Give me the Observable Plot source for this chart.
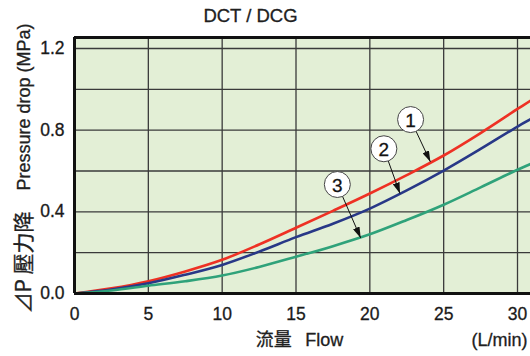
<!DOCTYPE html>
<html><head><meta charset="utf-8">
<script src="https://cdn.jsdelivr.net/npm/d3@7"></script>
<script src="https://cdn.jsdelivr.net/npm/@observablehq/plot@0.6"></script>
<style>body{margin:0;background:#fff;} svg{display:block} #chart text{stroke:#1a1a1a;stroke-width:0.3px}</style>
</head><body><div id="chart"></div>
<script>
// Flow (L/min)
const flow  = [0, 2.5, 5, 7.5, 10, 12.5, 15, 17.5, 20, 22.5, 25, 27.5, 30, 31];
// Pressure drop (MPa) per curve
const drop1 = [0, 0.025, 0.060, 0.108, 0.165, 0.240, 0.322, 0.405, 0.490, 0.580, 0.676, 0.786, 0.904, 0.950];
const drop2 = [0, 0.020, 0.050, 0.092, 0.140, 0.205, 0.276, 0.342, 0.416, 0.505, 0.602, 0.708, 0.818, 0.858];
const drop3 = [0, 0.015, 0.038, 0.060, 0.088, 0.130, 0.180, 0.232, 0.290, 0.360, 0.435, 0.520, 0.606, 0.638];
const seriesNames  = ["1", "2", "3"];
const seriesColors = ["#ee3124", "#283887", "#2fa27a"];
const xTicks = [0, 5, 10, 15, 20, 25, 30];
const yTicks = [0, 0.4, 0.8, 1.2];
const xGrid  = [5, 10, 15, 20, 25, 30];
const yGrid  = [0.2, 0.4, 0.6, 0.8, 1.0, 1.2];
// callout circles (data units) and arrow tips
const calloutX = [22.76, 20.95, 17.8];
const calloutY = [0.852, 0.709, 0.534];
const tipX = [24.1, 22.04, 19.38];
const tipY = [0.645, 0.49, 0.272];
const titleText = "DCT / DCG";
const xLabel = "流量\u2002\u2005Flow";
const unitLabel = "(L/min)";
const yLabelCJK = "⊿P 壓力降";
const yLabelEN = "Pressure drop (MPa)";

const drops = [drop1, drop2, drop3];
const rows = seriesNames.flatMap((s, i) => flow.map((f, j) => ({series: s, flow: f, drop: drops[i][j]})));
const callouts = seriesNames.map((s, i) => ({label: s, cx: calloutX[i], cy: calloutY[i], tx: tipX[i], ty: tipY[i]}));

const X_MAX = 30.88, Y_MAX = 1.254;
const font = "'Liberation Sans', Arial, 'Noto Sans CJK TC', sans-serif";
const cjkFont = "'Noto Sans CJK TC', 'Liberation Sans', sans-serif";

const svg = Plot.plot({
  width: 530, height: 356,
  marginLeft: 74, marginRight: 0, marginTop: 37, marginBottom: 63,
  style: {fontFamily: font, background: "#fff", color: "#1a1a1a"},
  x: {domain: [0, X_MAX]},
  y: {domain: [0, Y_MAX]},
  color: {domain: seriesNames, range: seriesColors},
  marks: [
    Plot.frame({fill: "#e3efd6", stroke: null}),
    Plot.ruleX(xGrid, {stroke: "#3a3a3a", strokeWidth: 1.3}),
    Plot.ruleY(yGrid, {stroke: "#3a3a3a", strokeWidth: 1.3}),
    Plot.line(rows, {x: "flow", y: "drop", z: "series", stroke: "series", strokeWidth: 2.6, curve: "catmull-rom", clip: true}),
    Plot.link(callouts, {x1: "cx", y1: "cy", x2: "tx", y2: "ty", stroke: "#111", strokeWidth: 1}),
    Plot.dot(callouts, {x: "cx", y: "cy", r: 13, fill: "white", stroke: "#444", strokeWidth: 1}),
    Plot.text(callouts, {x: "cx", y: "cy", text: "label", fontSize: 19, fill: "#111", dy: 1}),
    Plot.ruleY([0, Y_MAX], {stroke: "#111", strokeWidth: 3}),
    Plot.ruleX([0], {stroke: "#111", strokeWidth: 3}),
    Plot.axisX(xTicks, {tickSize: 0, tickPadding: 14, fontSize: 17.5, label: null, fill: "#1a1a1a"}),
    Plot.axisY(yTicks, {tickSize: 0, tickPadding: 10, fontSize: 17.5, label: null, tickFormat: d3.format(".1f"), fill: "#1a1a1a"}),
    Plot.text([titleText], {frameAnchor: "top-left", textAnchor: "middle", lineAnchor: "middle", dx: 176, dy: -21, fontSize: 18.5, fill: "#222"}),
    Plot.text([xLabel], {frameAnchor: "bottom-left", textAnchor: "middle", lineAnchor: "middle", dx: 225, dy: 47, fontSize: 18, fill: "#222"}),
    Plot.text([unitLabel], {frameAnchor: "bottom-right", textAnchor: "end", lineAnchor: "middle", dx: -3, dy: 47, fontSize: 18, fill: "#222"}),
    Plot.text([yLabelCJK], {frameAnchor: "left", textAnchor: "start", lineAnchor: "middle", rotate: -90, dx: -50, dy: 148, fontSize: 21, fontFamily: cjkFont, fill: "#222"}),
    Plot.text([yLabelEN], {frameAnchor: "left", textAnchor: "end", lineAnchor: "middle", rotate: -90, dx: -50, dy: -142, fontSize: 18, fill: "#222"})
  ]
});

// filled arrowheads for the callout leaders
const ns = "http://www.w3.org/2000/svg";
const defs = document.createElementNS(ns, "defs");
const marker = document.createElementNS(ns, "marker");
marker.setAttribute("id", "callout-head");
marker.setAttribute("viewBox", "0 0 11 7");
marker.setAttribute("refX", "11");
marker.setAttribute("refY", "3.5");
marker.setAttribute("markerWidth", "11");
marker.setAttribute("markerHeight", "7");
marker.setAttribute("markerUnits", "userSpaceOnUse");
marker.setAttribute("orient", "auto");
const head = document.createElementNS(ns, "path");
head.setAttribute("d", "M0,0L11,3.5L0,7Z");
head.setAttribute("fill", "#111");
marker.appendChild(head);
defs.appendChild(marker);
svg.insertBefore(defs, svg.firstChild);
svg.querySelectorAll('g[aria-label="link"] path').forEach(p => p.setAttribute("marker-end", "url(#callout-head)"));

document.getElementById("chart").appendChild(svg);
</script>
</body></html>
